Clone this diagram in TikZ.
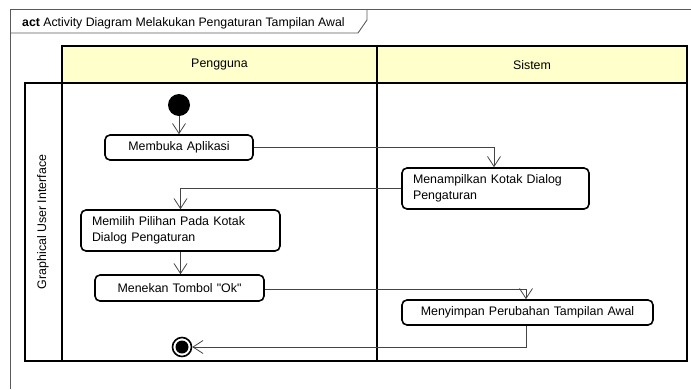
\documentclass[tikz,border=0pt]{standalone}
\usepackage{fontspec}
\setmainfont{Liberation Sans}[Ligatures=TeXOff]
\usetikzlibrary{arrows.meta}

\definecolor{laneyellow}{HTML}{FFFFCC}
\definecolor{framegray}{HTML}{5A5A5A}
\definecolor{flowgray}{HTML}{444444}

\tikzset{
  action/.style={draw=black, line width=1.6pt, rounded corners=5pt, fill=white,
    inner xsep=11pt, inner ysep=2pt, font=\fontsize{12.4}{15.5}\selectfont},
  actleft/.style={action, align=left},
  actcenter/.style={action, align=center},
  flow/.style={draw=flowgray, line width=0.8pt,
    -{Straight Barb[length=10pt,width=13pt,line width=0.8pt]}},
  lane/.style={draw=black, line width=1.6pt},
  lanetext/.style={font=\fontsize{12.4}{14}\selectfont},
}

\begin{document}
\begin{tikzpicture}[x=1pt, y=-1pt]
  \useasboundingbox (0,0) rectangle (691,389);

  % diagram frame with its name tab
  \draw[framegray, line width=0.9pt] (10,389) -- (10,9) -- (691,9);
  \draw[framegray, line width=0.9pt] (10,33) -- (358,33) -- (367,20) -- (367,9);
  \node[anchor=base west, inner sep=0, font=\fontsize{12.3}{14}\selectfont] (title)
    at (22,26) {\textbf{act} Activity Diagram Melakukan Pengaturan Tampilan Awal};

  % swimlane headers
  \filldraw[lane, fill=laneyellow] (62,46) rectangle (377,83);
  \filldraw[lane, fill=laneyellow] (377,46) rectangle (687,83);
  \node[lanetext] (pengguna) at (219.5,65) {Pengguna};
  \node[lanetext] (sistem) at (532,65) {Sistem};

  % partition body
  \draw[lane] (25,83) rectangle (687,361);
  \draw[lane] (62,83) -- (62,361);
  \draw[lane] (377,83) -- (377,361);
  \node[lanetext, rotate=90] (gui) at (43,222) {Graphical User Interface};

  % initial and final nodes
  \node[circle, fill=black, minimum size=22pt, inner sep=0] (start) at (179,105) {};
  \node[circle, draw=black, line width=1.6pt, fill=white, minimum size=19pt, inner sep=0] (finish) at (182,347) {};
  \node[circle, fill=black, minimum size=13pt, inner sep=0] (finishdot) at (182,347) {};

  % actions
  \node[actcenter, text width=126pt, minimum height=25pt] (buka) at (179,147.5) {Membuka Aplikasi};
  \node[actleft, text width=165pt, minimum height=41pt] (tampil) at (495.5,188.5)
    {Menampilkan Kotak Dialog\\Pengaturan};
  \node[actleft, text width=177pt, minimum height=41pt] (pilih) at (180.5,230.5)
    {Memilih Pilihan Pada Kotak\\Dialog Pengaturan};
  \node[actcenter, text width=147pt, minimum height=26pt] (tekan) at (179.5,288) {Menekan Tombol "Ok"};
  \node[actcenter, text width=229pt, minimum height=25pt] (simpan) at (527.5,312.5)
    {Menyimpan Perubahan Tampilan Awal};

  % control flows
  \draw[flow] (start) -- (start |- buka.north);
  \draw[flow] (buka.east) -| ([xshift=-1.5pt]tampil.north);
  \draw[flow] (tampil.west) -| (pilih.north);
  \draw[flow] (pilih.south) -- (pilih.south |- tekan.north);
  \draw[flow] ([yshift=-1pt]tekan.east) -| ([xshift=-1.5pt]simpan.north);
  \draw[flow] ([xshift=-1.5pt]simpan.south) |- (finish.east);
\end{tikzpicture}
\end{document}
